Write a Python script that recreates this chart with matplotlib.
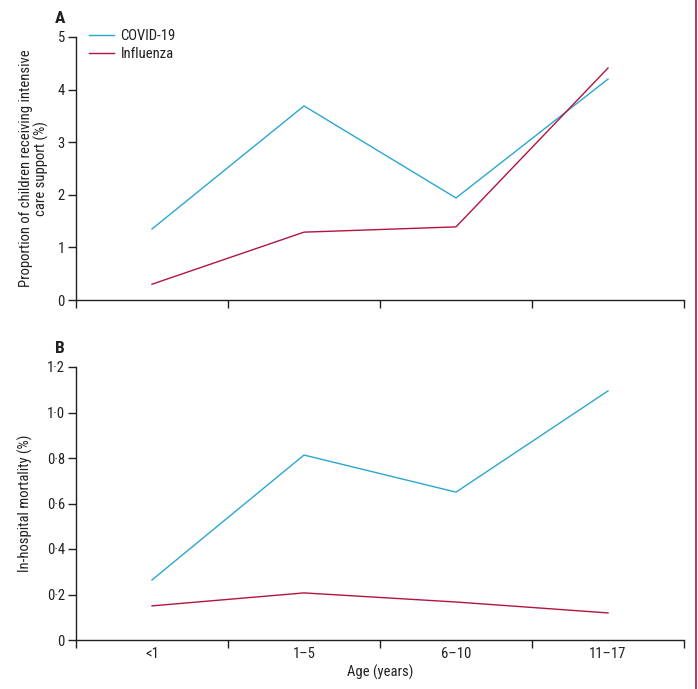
import matplotlib
matplotlib.use("Agg")
import matplotlib.pyplot as plt
from matplotlib.lines import Line2D

plt.rcParams["font.family"] = ["Roboto Condensed", "Liberation Sans", "DejaVu Sans"]

# Data
age_groups = ["<1", "1–5", "6–10", "11–17"]
icu_covid = [1.35, 3.69, 1.94, 4.20]
icu_flu = [0.30, 1.29, 1.39, 4.41]
mort_covid = [0.264, 0.813, 0.650, 1.095]
mort_flu = [0.150, 0.207, 0.167, 0.119]

BLUE = "#2aa7cf"
RED = "#b3143f"
INK = "#231f20"

fig = plt.figure(figsize=(6.98, 6.89), dpi=100)
ax_a = fig.add_axes([76 / 698, 1 - 300 / 689, 608 / 698, 263 / 689])
ax_b = fig.add_axes([76 / 698, 1 - 640 / 689, 608 / 698, 273 / 689])

xpos = [i + 0.5 for i in range(len(age_groups))]


def dot_fmt(v, pos):
    if abs(v) < 1e-9:
        return "0"
    return f"{v:.1f}".replace(".", "·")


for ax in (ax_a, ax_b):
    for side in ("top", "right"):
        ax.spines[side].set_visible(False)
    for side in ("left", "bottom"):
        ax.spines[side].set_color(INK)
        ax.spines[side].set_linewidth(1.0)
    ax.set_xlim(0, 4)
    ax.set_xticks(range(5))
    ax.set_xticklabels([])
    ax.set_xticks(xpos, minor=True)
    ax.tick_params(axis="x", which="major", length=6, width=1, color=INK, direction="out")
    ax.tick_params(axis="x", which="minor", length=0, labelsize=10.5, labelcolor=INK, pad=5)
    ax.tick_params(axis="y", length=6, width=1, color=INK, labelsize=10.5, labelcolor=INK, pad=2)

# Panel A
ax_a.plot(xpos, icu_covid, color=BLUE, lw=1.0, label="COVID-19")
ax_a.plot(xpos, icu_flu, color=RED, lw=1.0, label="Influenza")
ax_a.set_ylim(0, 5)
ax_a.set_yticks(range(6))
ax_a.set_ylabel("Proportion of children receiving intensive\ncare support (%)",
                fontsize=10.5, color=INK, labelpad=6, linespacing=1.1)
ax_a.legend(loc="upper left", bbox_to_anchor=(0.0, 1.08), frameon=False,
            fontsize=10.5, handlelength=1.7, handletextpad=0.45, labelspacing=0.25,
            labelcolor=INK)
ax_a.text(-0.027, 1.04, "A", transform=ax_a.transAxes, fontsize=12.5,
          fontweight="bold", color=INK, ha="center", va="bottom")

# Panel B
ax_b.plot(xpos, mort_covid, color=BLUE, lw=1.0)
ax_b.plot(xpos, mort_flu, color=RED, lw=1.0)
ax_b.set_ylim(0, 1.2)
ax_b.set_yticks([0, 0.2, 0.4, 0.6, 0.8, 1.0, 1.2])
ax_b.yaxis.set_major_formatter(plt.FuncFormatter(dot_fmt))
ax_b.set_xticklabels(age_groups, minor=True)
ax_b.set_ylabel("In-hospital mortality (%)", fontsize=10.5, color=INK, labelpad=10)
ax_b.set_xlabel("Age (years)", fontsize=10.5, color=INK, labelpad=3)
ax_b.text(-0.027, 1.04, "B", transform=ax_b.transAxes, fontsize=12.5,
          fontweight="bold", color=INK, ha="center", va="bottom")

fig.align_ylabels([ax_a, ax_b])

# page border line on the right edge
fig.add_artist(Line2D([695.5 / 698, 695.5 / 698], [0, 1], color=RED, lw=1.2,
                      transform=fig.transFigure))

fig.savefig("out.png", dpi=100, facecolor="white")
